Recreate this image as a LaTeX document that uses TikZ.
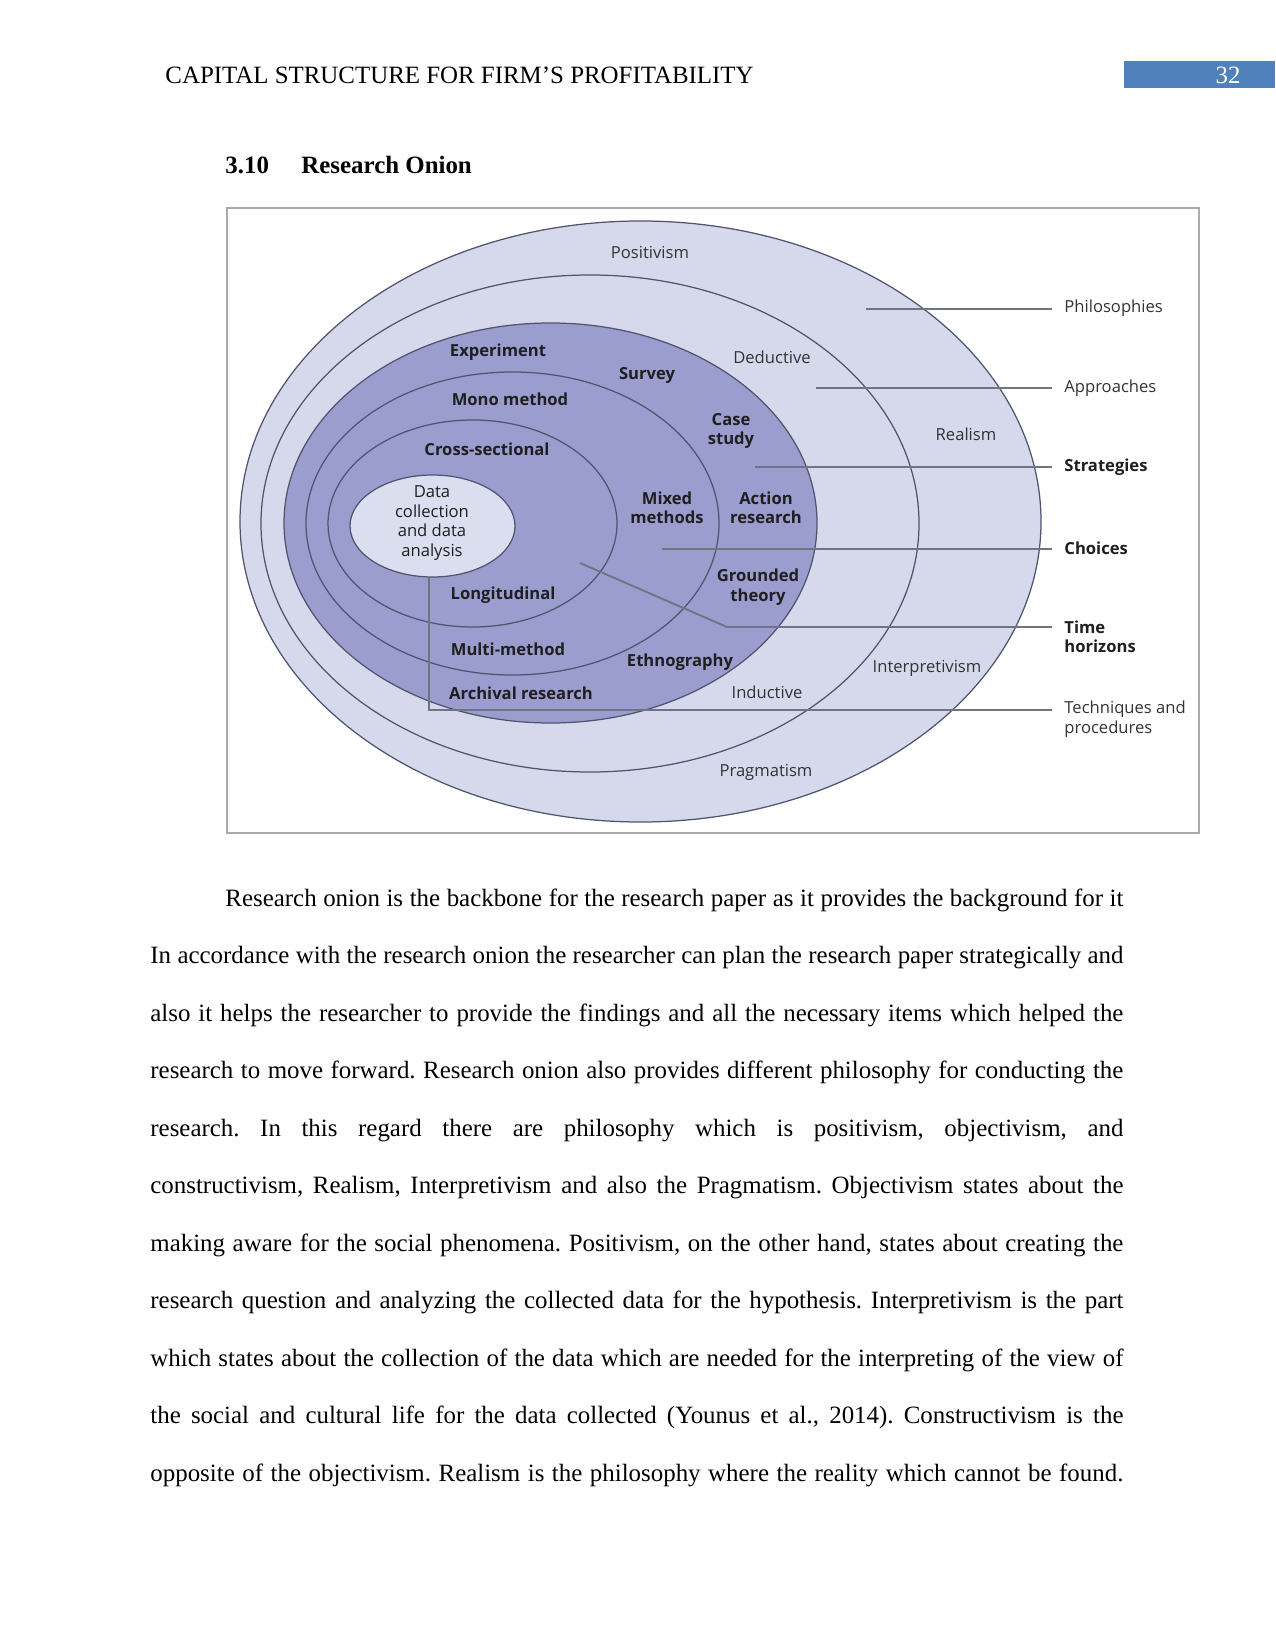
\documentclass[tikz,border=0pt]{standalone}
\usepackage{fontspec}
\setmainfont{Liberation Serif}
\newfontfamily\onionfont{Open Sans}
\usetikzlibrary{positioning}

\newdimen\pxu
\pxu=0.4818pt

\definecolor{ringlight}{RGB}{213,217,235}
\definecolor{ringdark}{RGB}{154,157,206}
\definecolor{ringcore}{RGB}{218,222,239}
\definecolor{ringline}{RGB}{80,84,110}
\definecolor{leadgray}{RGB}{112,115,132}
\definecolor{framegray}{RGB}{170,170,170}
\definecolor{hdrblue}{RGB}{79,129,189}

\tikzset{
  ring/.style={draw=ringline, line width=0.6pt},
  leader/.style={draw=leadgray, line width=0.9pt},
  lbl/.style={font=\onionfont\fontsize{8}{9.4}\selectfont, text=black!80,
              inner sep=0pt, align=center},
  blbl/.style={lbl, font=\onionfont\bfseries\fontsize{8}{9.4}\selectfont,
               text=black!88},
  side/.style={anchor=west, align=left},
  pagetext/.style={anchor=base west, inner sep=0pt,
                   font=\fontsize{12}{14}\selectfont},
}

\begin{document}
\frenchspacing
\begin{tikzpicture}[x=0.4818pt, y=-0.4818pt]
  \useasboundingbox (0,0) rectangle (1275,1651);
  \fill[white] (0,0) rectangle (1275,1651);

  % Header
  \node[pagetext] (head) at (165,84) {CAPITAL STRUCTURE FOR FIRM’S PROFITABILITY};
  \fill[hdrblue] (1124,61) rectangle (1275,88);
  \node[pagetext, anchor=base, text=white] (pagenum) at (1228,84) {32};

  % Heading
  \node[pagetext, font=\bfseries\fontsize{12}{14}\selectfont] (secnum) at (225,174) {3.10};
  \node[pagetext, font=\bfseries\fontsize{12}{14}\selectfont] (sectitle) at (301,174) {Research Onion};

  % Frame
  \draw[framegray, line width=0.8pt] (227,208) rectangle (1199,833);

  \coordinate (O1) at (640.5,521.5);
  \coordinate (O2) at (590,523.5);
  \coordinate (O3) at (550.5,523);
  \coordinate (O4) at (512.5,523.5);
  \coordinate (O5) at (472.5,523.5);
  \coordinate (O6) at (432.5,526);

  % Rings
  \filldraw[ring, fill=ringlight] (O1) ellipse [x radius=400.5, y radius=300.5];
  \filldraw[ring, fill=ringlight] (O2) ellipse [x radius=329, y radius=248.5];
  \filldraw[ring, fill=ringdark]  (O3) ellipse [x radius=266.5, y radius=200];
  \filldraw[ring, fill=ringdark]  (O4) ellipse [x radius=206.5, y radius=151.5];
  \filldraw[ring, fill=ringdark]  (O5) ellipse [x radius=144.5, y radius=103.5];
  \filldraw[ring, fill=ringcore]  (O6) ellipse [x radius=82.5, y radius=51];

  % Leader lines
  \coordinate (phS) at (866,309);  \coordinate (phE) at (1052,309);
  \coordinate (apS) at (816,388);  \coordinate (apE) at (1052,388);
  \coordinate (stS) at (755,467);  \coordinate (stE) at (1052,467);
  \coordinate (chS) at (662,549);  \coordinate (chE) at (1052,549);
  \coordinate (thS) at (580,563);  \coordinate (thK) at (727,627);
  \coordinate (thE) at (1052,627);
  \coordinate (tpS) at (429,577);  \coordinate (tpK) at (429,710);
  \coordinate (tpE) at (1052,710);

  \draw[leader] (phS) -- (phE);
  \draw[leader] (apS) -- (apE);
  \draw[leader] (stS) -- (stE);
  \draw[leader] (chS) -- (chE);
  \draw[leader] (thS) -- (thK) -- (thE);
  \draw[leader] (tpS) -- (tpK) -- (tpE);

  % Layer names
  \node[lbl, side] (philo) at (1064,308) {Philosophies};
  \node[lbl, side] (appr)  at (1064,388) {Approaches};
  \node[blbl, side] (strat) at (1064,467) {Strategies};
  \node[blbl, side] (choice) at (1064,548) {Choices};
  \node[blbl, side] (horiz) at (1064,637) {Time\\horizons};
  \node[lbl, side] (techn) at (1064,719) {Techniques and\\procedures};

  % Outer rings
  \node[lbl] (posit)  at (650,252) {Positivism};
  \node[lbl] (realis) at (966,434) {Realism};
  \node[lbl] (interp) at (927,668) {Interpretivism};
  \node[lbl] (pragm)  at (766,772) {Pragmatism};
  \node[lbl] (deduc)  at (772,357) {Deductive};
  \node[lbl] (induc)  at (767,692) {Inductive};

  % Strategies
  \node[blbl] (exper)  at (498,352) {Experiment};
  \node[blbl] (survey) at (647,375) {Survey};
  \node[blbl] (case)   at (731,431) {Case\\study};
  \node[blbl] (action) at (766,508) {Action\\research};
  \node[blbl] (ground) at (758,587) {Grounded\\theory};
  \node[blbl] (ethno)  at (680,662) {Ethnography};
  \node[blbl] (archiv) at (521,693) {Archival research};

  % Choices and time horizons
  \node[blbl] (mono)   at (510,399) {Mono method};
  \node[blbl] (mixed)  at (667,508) {Mixed\\methods};
  \node[blbl] (multi)  at (508,649) {Multi-method};
  \node[blbl] (cross)  at (487,449) {Cross-sectional};
  \node[blbl] (longit) at (503,595) {Longitudinal};

  % Core
  \node[lbl, text=black!88] (core) at (432,523) {Data\\collection\\and data\\analysis};

  % Body text
  \node[pagetext] (line0) at (225,906)
    {\makebox[898\pxu][s]{Research onion is the backbone for the research paper as it provides the background for it}};
  \foreach \txt [count=\i] in {
    {In accordance with the research onion the researcher can plan the research paper strategically and},
    {also it helps the researcher to provide the findings and all the necessary items which helped the},
    {research to move forward. Research onion also provides different philosophy for conducting the},
    {research. In this regard there are philosophy which is positivism, objectivism, and},
    {constructivism, Realism, Interpretivism and also the Pragmatism. Objectivism states about the},
    {making aware for the social phenomena. Positivism, on the other hand, states about creating the},
    {research question and analyzing the collected data for the hypothesis. Interpretivism is the part},
    {which states about the collection of the data which are needed for the interpreting of the view of},
    {the social and cultural life for the data collected (Younus et al., 2014). Constructivism is the},
    {opposite of the objectivism. Realism is the philosophy where the reality which cannot be found.}}
    \node[pagetext] (line\i) at (150,{906+\i*57.5}) {\makebox[973\pxu][s]{\txt}};

\end{tikzpicture}
\end{document}
